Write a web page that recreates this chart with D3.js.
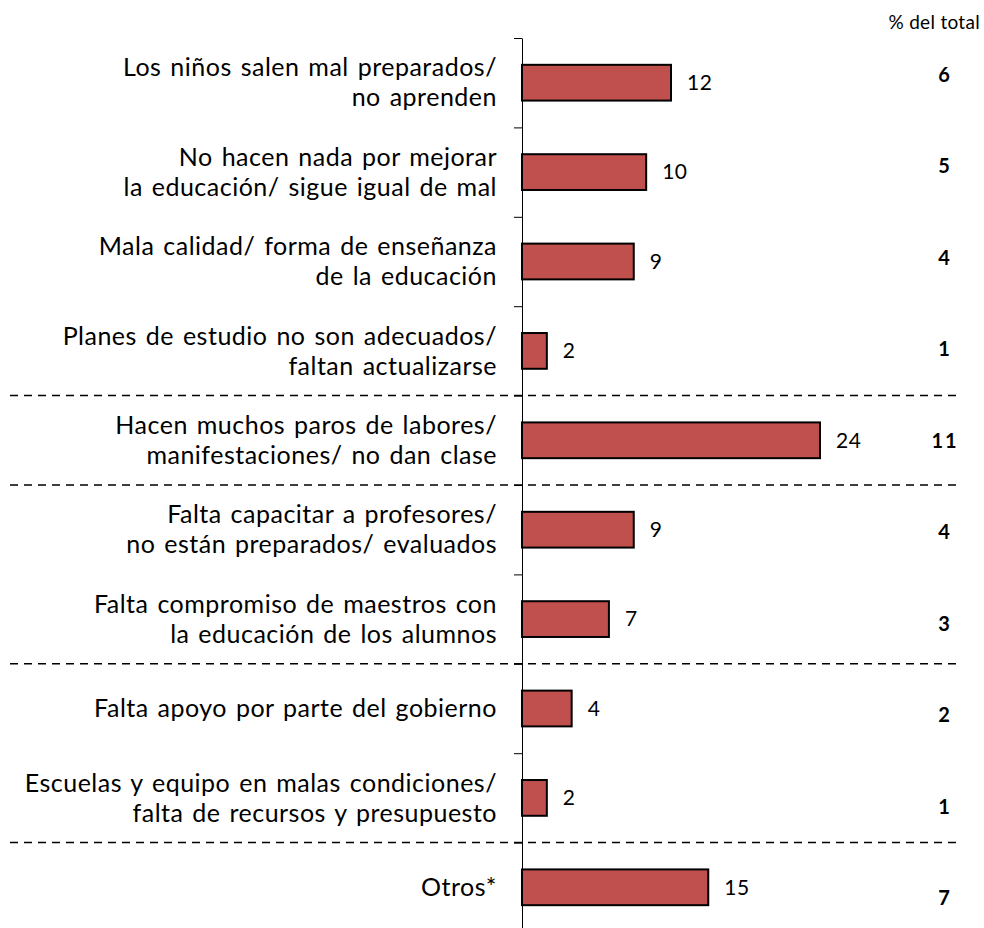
<!DOCTYPE html>
<html>
<head>
<meta charset="utf-8">
<script src="https://cdn.jsdelivr.net/npm/d3@7"></script>
<style>
  body { margin: 0; background: #fff; }
  svg { font-family: Lato, "Open Sans", sans-serif; }
</style>
</head>
<body>
<div id="chart"></div>
<script>
// labels (two lines each), values and share of total
const labels = [
  ["Los niños salen mal preparados/", "no aprenden"],
  ["No hacen nada por mejorar", "la educación/ sigue igual de mal"],
  ["Mala calidad/ forma de enseñanza", "de la educación"],
  ["Planes de estudio no son adecuados/", "faltan actualizarse"],
  ["Hacen muchos paros de labores/", "manifestaciones/ no dan clase"],
  ["Falta capacitar a profesores/", "no están preparados/ evaluados"],
  ["Falta compromiso de maestros con", "la educación de los alumnos"],
  ["Falta apoyo por parte del gobierno"],
  ["Escuelas y equipo en malas condiciones/", "falta de recursos y presupuesto"],
  ["Otros*"]
];
const values = [12, 10, 9, 2, 24, 9, 7, 4, 2, 15];
const pctTotal = [6, 5, 4, 1, 11, 4, 3, 2, 1, 7];
// dashed separators after these category indices
const groupBreaks = [3, 4, 6, 8];

const width = 984, height = 928;
const axisX = 522;
const yTop = 38, yBottom = 932;

const data = labels.map((l, i) => ({ i, label: l, value: values[i], pct: pctTotal[i] }));

const svg = d3.select("#chart").append("svg")
  .attr("width", width)
  .attr("height", height);

const y = d3.scaleBand()
  .domain(d3.range(labels.length))
  .range([yTop, yBottom])
  .paddingInner(0.6)
  .paddingOuter(0.3);

const x = d3.scaleLinear().domain([0, 24]).range([axisX, 820]);

// boundary scale for tick marks between categories
const yEdge = d3.scaleLinear().domain([0, labels.length]).range([yTop, yBottom]);

// dashed separators
svg.append("g")
  .selectAll("line")
  .data(groupBreaks)
  .join("line")
  .attr("x1", 10)
  .attr("x2", 962)
  .attr("y1", d => yEdge(d + 1))
  .attr("y2", d => yEdge(d + 1))
  .attr("stroke", "#000")
  .attr("stroke-width", 1.5)
  .attr("stroke-dasharray", "8,6");

// bars
svg.append("g")
  .selectAll("rect")
  .data(data)
  .join("rect")
  .attr("x", x(0))
  .attr("y", d => y(d.i))
  .attr("width", d => x(d.value) - x(0))
  .attr("height", y.bandwidth())
  .attr("fill", "#C0504D")
  .attr("stroke", "#000")
  .attr("stroke-width", 2);

// axis
svg.append("g")
  .attr("transform", `translate(${axisX},0)`)
  .call(d3.axisLeft(yEdge).ticks(labels.length).tickSize(8).tickSizeOuter(0).tickFormat(""))
  .call(g => g.selectAll("path, line").attr("stroke", "#000").attr("stroke-width", 1));

// value labels
svg.append("g")
  .selectAll("text")
  .data(data)
  .join("text")
  .attr("x", d => x(d.value) + 16)
  .attr("y", d => y(d.i) + y.bandwidth() / 2)
  .attr("dy", "0.35em")
  .attr("font-size", 21)
  .attr("letter-spacing", 0.5)
  .attr("fill", "#000")
  .text(d => d.value);

// category labels
const catG = svg.append("g")
  .selectAll("text")
  .data(data)
  .join("text")
  .attr("x", 497)
  .attr("y", d => y(d.i) + y.bandwidth() / 2)
  .attr("text-anchor", "end")
  .attr("font-size", 25)
  .attr("letter-spacing", 0.5)
  .attr("word-spacing", 2)
  .attr("fill", "#000");

catG.selectAll("tspan")
  .data(d => d.label.map((t, k) => ({ t, k, n: d.label.length })))
  .join("tspan")
  .attr("x", 497)
  .attr("dy", d => d.k === 0 ? `${0.35 - (d.n - 1) * 0.6}em` : "1.2em")
  .text(d => d.t);

// % del total column
const yPct = d3.scalePoint().domain(d3.range(labels.length)).range([75, 898]);

svg.append("text")
  .attr("x", 980)
  .attr("y", 22)
  .attr("dy", "0.35em")
  .attr("text-anchor", "end")
  .attr("font-size", 19)
  .attr("letter-spacing", 0.3)
  .text("% del total");

svg.append("g")
  .selectAll("text")
  .data(data)
  .join("text")
  .attr("x", 945)
  .attr("y", d => yPct(d.i))
  .attr("dy", "0.35em")
  .attr("text-anchor", "middle")
  .attr("font-size", 20)
  .attr("font-weight", "bold")
  .attr("letter-spacing", 2)
  .text(d => d.pct);
</script>
</body>
</html>
